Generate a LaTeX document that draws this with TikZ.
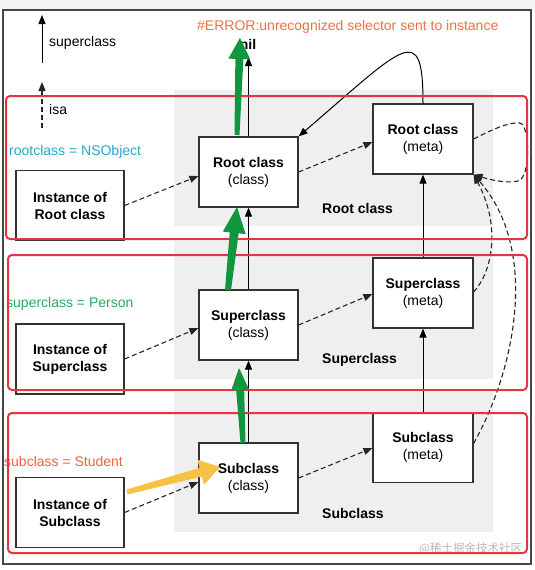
\documentclass[tikz,border=0pt]{standalone}
\usepackage{fontspec}
\setmainfont{Liberation Sans}
\newfontfamily\cjk{Noto Sans CJK SC}
\usetikzlibrary{arrows.meta,calc}
\definecolor{redbox}{RGB}{230,52,64}
\definecolor{bandc}{RGB}{239,239,239}
\definecolor{boxc}{RGB}{50,50,50}
\definecolor{framec}{RGB}{70,70,70}
\definecolor{fatgreen}{RGB}{16,150,62}
\definecolor{fatyellow}{RGB}{246,194,68}
\definecolor{cyanlab}{RGB}{40,168,208}
\definecolor{greenlab}{RGB}{40,170,95}
\definecolor{orangelab}{RGB}{240,100,70}
\definecolor{errlab}{RGB}{240,112,72}
\newcommand{\myfatarrow}[7]{%
  \coordinate (fah) at ($(#3)!#4!(#2)$);
  \fill[#1] ($(#2)!#6!90:(#3)$) -- ($(fah)!#7!90:(#3)$) -- ($(fah)!#5!90:(#3)$) -- (#3)
    -- ($(fah)!#5!-90:(#3)$) -- ($(fah)!#7!-90:(#3)$) -- ($(#2)!#6!-90:(#3)$) -- cycle;}
\tikzset{
  objbox/.style={draw=boxc, fill=white, line width=1.2pt, inner sep=0pt, align=center},
  clsbox/.style={objbox, minimum width=99pt, minimum height=70pt},
  metabox/.style={objbox, minimum width=100pt, minimum height=70pt},
  instbox/.style={objbox, minimum width=108pt, minimum height=70pt},
  supl/.style={line width=1pt, draw=black, -{Triangle[length=9pt,width=7pt]}},
  isal/.style={line width=1.1pt, draw=black!85, dash pattern=on 5pt off 3pt, -{Triangle[length=9pt,width=7pt]}},
  redframe/.style={draw=redbox, line width=2pt, rounded corners=4pt},
  txt/.style={inner sep=0pt, anchor=west},
}
\begin{document}
\begin{tikzpicture}[x=1pt,y=-1pt, font=\fontsize{14}{17}\selectfont]
\useasboundingbox (0,0) rectangle (535,570);
\fill[white] (0,0) rectangle (535,570);
\fill[black!4] (0,0) rectangle (535,9);
% gray bands
\fill[bandc] (174,90) rectangle (493,226);
\fill[bandc] (174,241) rectangle (493,379);
\fill[bandc] (174,392) rectangle (493,532);
% outer frame
\draw[framec, line width=1.2pt] (3,10) rectangle (531,564);
% legend
\coordinate (l1a) at (42,63); \coordinate (l1b) at (42,15);
\coordinate (l2a) at (42,128); \coordinate (l2b) at (42,82);
\draw[supl] (l1a) -- (l1b);
\draw[isal] (l2a) -- (l2b);
\node[txt] (lsup) at (49,43) {superclass};
\node[txt] (lisa) at (49,109) {isa};
% texts
\node[txt, text=errlab] (err) at (197,27) {\#ERROR:unrecognized selector sent to instance};
\node[inner sep=0pt] (nil) at (248,44) {\textbf{nil}};
\node[txt, text=cyanlab] (lroot) at (9,152) {rootclass = NSObject};
\node[txt, text=greenlab] (lsuper) at (6,304) {superclass = Person};
\node[txt, text=orangelab] (lsub) at (4,461) {subclass = Student};
\node[txt] (broot) at (322,208) {\textbf{Root class}};
\node[txt] (bsuper) at (322,360) {\textbf{Superclass}};
\node[txt] (bsub) at (322,513) {\textbf{Subclass}};
\node[txt, text=black!28, font=\cjk\fontsize{11.5}{13}\selectfont] (wm) at (419,549) {@稀土掘金技术社区};
% boxes
\node[instbox] (ir) at (70,205.5) {\textbf{Instance of}\\\textbf{Root class}};
\node[instbox] (is) at (70,359) {\textbf{Instance of}\\\textbf{Superclass}};
\node[instbox] (ib) at (70,512.5) {\textbf{Instance of}\\\textbf{Subclass}};
\node[clsbox] (rc) at (248.5,172) {\textbf{Root class}\\(class)};
\node[clsbox] (sc) at (248.5,325) {\textbf{Superclass}\\(class)};
\node[clsbox] (bc) at (248.5,478) {\textbf{Subclass}\\(class)};
\node[metabox] (rm) at (423,139) {\textbf{Root class}\\(meta)};
\node[metabox] (sm) at (423,293) {\textbf{Superclass}\\(meta)};
\node[metabox] (bm) at (423,447.5) {\textbf{Subclass}\\(meta)};
% superclass arrows
\coordinate (nilpt) at (248.5,57);
\draw[supl] (bc.north) -- (sc.south);
\draw[supl] (sc.north) -- (rc.south);
\draw[supl] (rc.north) -- (nilpt);
\draw[supl] (bm.north) -- (sm.south);
\draw[supl] (sm.north) -- (rm.south);
\draw[supl] (rm.north) .. controls (423,20) and (405,45) .. (rc.north east);
% isa arrows
\draw[isal] (ir.east) -- ($(rc.west)+(0,4)$);
\draw[isal] (rc.east) -- ($(rm.west)+(0,3)$);
\draw[isal] (is.east) -- ($(sc.west)+(0,3)$);
\draw[isal] (sc.east) -- ($(sm.west)+(0,1)$);
\draw[isal] (ib.east) -- ($(bc.west)+(0,4)$);
\draw[isal] (bc.east) -- ($(bm.west)+(0,0.5)$);
\draw[isal] (rm.east) .. controls (495,128) and (510,122) .. (520,123)
   .. controls (530,125) and (531,178) .. (518,181)
   .. controls (505,184) and (488,179) .. (rm.south east);
\draw[isal] ($(sm.east)+(0,-1)$) .. controls (490,275) and (503,230) .. (rm.south east);
\draw[isal] ($(bm.east)+(0,-4)$) .. controls (515,370) and (540,250) .. (rm.south east);
% red frames
\draw[redframe] (6,96) rectangle (527,239);
\draw[redframe] (8,255) rectangle (527,390);
\draw[redframe] (8,413) rectangle (527,553);
% fat arrows
\coordinate (g1t) at (243,443); \coordinate (g1h) at (239,368);
\coordinate (g2t) at (228,290); \coordinate (g2h) at (237,207);
\coordinate (g3t) at (237,135); \coordinate (g3h) at (240,38);
\coordinate (y1t) at (127,492); \coordinate (y1h) at (220,467);
\myfatarrow{fatgreen}{g1t}{g1h}{22pt}{9pt}{2.5pt}{4pt}
\myfatarrow{fatgreen}{g2t}{g2h}{26pt}{11.5pt}{3pt}{4.5pt}
\myfatarrow{fatgreen}{g3t}{g3h}{21pt}{11pt}{2.5pt}{4pt}
\myfatarrow{fatyellow}{y1t}{y1h}{20pt}{13pt}{2.5pt}{4.5pt}
\end{tikzpicture}
\end{document}
